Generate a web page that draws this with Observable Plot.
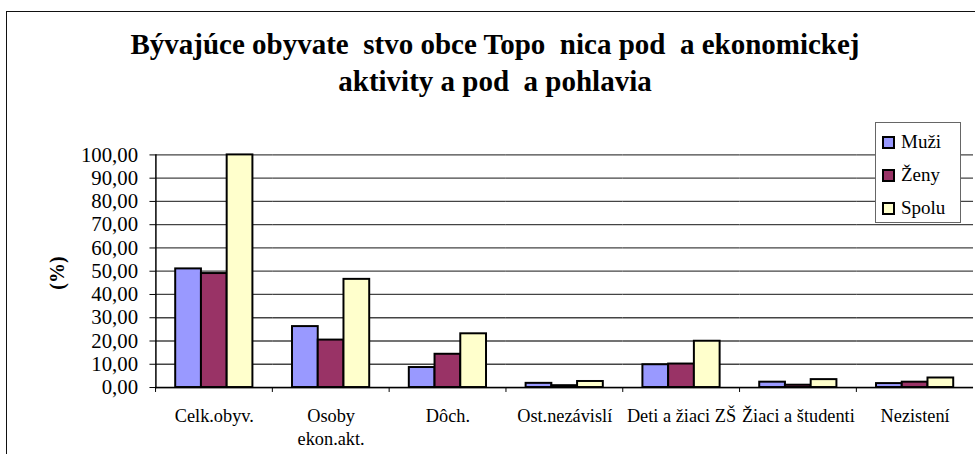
<!DOCTYPE html>
<html>
<head>
<meta charset="utf-8">
<script src="https://cdn.jsdelivr.net/npm/d3@7"></script>
<script src="https://cdn.jsdelivr.net/npm/@observablehq/plot@0.6"></script>
<style>
  html, body { margin: 0; padding: 0; background: #fff; }
  #wrap { position: relative; width: 975px; height: 454px; overflow: hidden; background: #fff; font-family: 'Liberation Serif', serif; }
  #frame { position: absolute; left: 6px; top: 11px; width: 2000px; height: 2000px; border-top: 1.5px solid #111; border-left: 1.5px solid #111; }
  #title { position: absolute; left: 0; top: 26px; width: 990px; text-align: center; font-family: 'Liberation Serif', serif; font-weight: bold; font-size: 29px; line-height: 37px; white-space: pre; color: #000; }
  #ylabel { position: absolute; left: 57px; top: 273px; transform: translate(-50%, -50%) rotate(-90deg); font-family: 'Liberation Serif', serif; font-weight: bold; font-size: 20px; white-space: nowrap; }
  #legend { position: absolute; left: 875px; top: 122px; width: 86px; height: 101px; border: 1px solid #666; background: #fff; box-sizing: border-box; font-family: 'Liberation Serif', serif; font-size: 19px; }
  #legend .item { position: absolute; left: 6px; display: flex; align-items: center; line-height: 22px; }
  #legend .sw { width: 9px; height: 9px; border: 2px solid #000; margin-right: 6px; }
  #chart { position: absolute; left: 0; top: 0; }
  #chart svg text { font-family: 'Liberation Serif', serif; }
</style>
</head>
<body>
<div id="wrap">
  <div id="frame"></div>
  <div id="chart"></div>
  <div id="title"></div>
  <div id="ylabel"></div>
  <div id="legend"></div>
</div>
<script>
const titleLines = ["Bývajúce obyvate  stvo obce Topo  nica pod  a ekonomickej", "aktivity a pod  a pohlavia"];
const yLabel = "(%)";
const categories = ["Celk.obyv.", "Osoby ekon.akt.", "Dôch.", "Ost.nezávislí", "Deti a žiaci ZŠ", "Žiaci a študenti", "Nezistení"];
const categoryLabels = ["Celk.obyv.", "Osoby\nekon.akt.", "Dôch.", "Ost.nezávislí", "Deti a žiaci ZŠ", "Žiaci a študenti", "Nezistení"];
const series = ["Muži", "Ženy", "Spolu"];
const colors = ["#9999ff", "#993366", "#ffffcc"];
const muzi  = [51.0, 26.2, 8.6, 1.8, 9.8, 2.3, 1.7];
const zeny  = [49.0, 20.4, 14.3, 0.8, 10.1, 1.0, 2.3];
const spolu = [100.0, 46.5, 23.1, 2.6, 19.9, 3.4, 4.1];
const yTicks = [0, 10, 20, 30, 40, 50, 60, 70, 80, 90, 100];

const values = [muzi, zeny, spolu];
const data = [];
categories.forEach((c, i) => series.forEach((s, j) => data.push({category: c, series: s, value: values[j][i]})));

const W = 985, marginLeft = 154, marginRight = 0;
const bw = (W - marginLeft - marginRight) / categories.length;
const serif = "'Liberation Serif', serif";

const chart = Plot.plot({
  width: W,
  height: 454,
  marginLeft,
  marginRight,
  marginTop: 156,
  marginBottom: 63,
  style: {fontFamily: serif, background: "transparent", color: "#000"},
  fx: {domain: categories, padding: 0, axis: null},
  x: {domain: series, paddingInner: 0, paddingOuter: 0.757, axis: null},
  y: {domain: [0, 100], axis: null},
  color: {domain: series, range: colors},
  marks: [
    Plot.gridY(yTicks, {stroke: "#444", strokeOpacity: 1, strokeWidth: 1.3}),
    Plot.barY(data, {fx: "category", x: "series", y: "value", fill: "series", stroke: "#000", strokeWidth: 2}),
    Plot.ruleY([0], {stroke: "#000", strokeWidth: 1.5}),
    Plot.frame({anchor: "left", facetAnchor: "left", stroke: "#000", strokeWidth: 1.5}),
    Plot.axisY({ticks: yTicks, tickSize: 6, tickPadding: 12, tickFormat: d => d.toFixed(2).replace(".", ","), fontSize: 21, label: null, stroke: "#000"}),
    Plot.axisFx({anchor: "bottom", tickSize: 0, tickPadding: 19, tickFormat: d => categoryLabels[categories.indexOf(d)], fontSize: 18.5, lineHeight: 1.24, label: null}),
    Plot.axisFx({anchor: "bottom", tickSize: 5, tickFormat: () => "", dx: -bw / 2, label: null, stroke: "#000"})
  ]
});
document.getElementById("chart").appendChild(chart);

document.getElementById("title").textContent = titleLines.join("\n");
document.getElementById("ylabel").textContent = yLabel;
const legend = document.getElementById("legend");
series.forEach((s, i) => {
  const item = document.createElement("div");
  item.className = "item";
  item.style.top = (8 + i * 33) + "px";
  const sw = document.createElement("div");
  sw.className = "sw";
  sw.style.background = colors[i];
  const t = document.createElement("span");
  t.textContent = s;
  item.appendChild(sw);
  item.appendChild(t);
  legend.appendChild(item);
});
</script>
</body>
</html>
